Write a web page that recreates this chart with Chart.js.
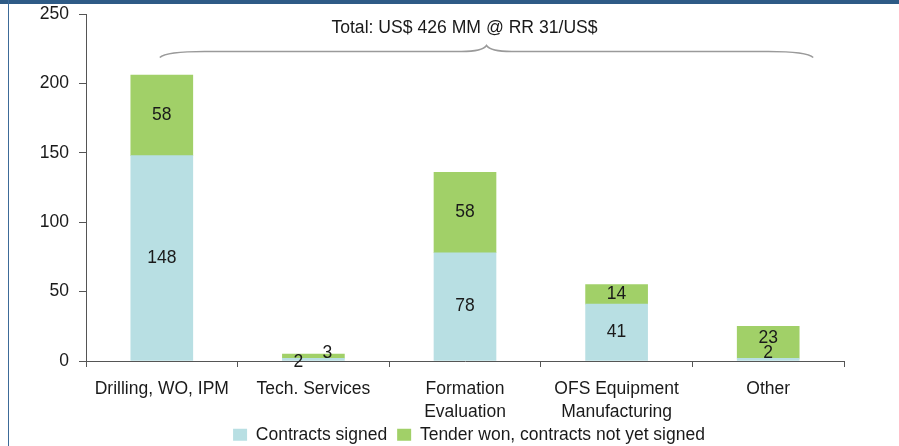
<!DOCTYPE html>
<html>
<head>
<meta charset="utf-8">
<script src="https://cdn.jsdelivr.net/npm/chart.js@4.4.0/dist/chart.umd.min.js"></script>
<style>
  html, body { margin: 0; padding: 0; background: #fff; }
  #wrap { position: relative; width: 899px; height: 446px; overflow: hidden; }
  #c { position: absolute; left: 0; top: 0; }
  #topbar { position: absolute; left: 0; top: 0; width: 899px; height: 4px; background: #2E5B86; }
  #leftline { position: absolute; left: 8px; top: 0; width: 1px; height: 446px; background: #3C6A98; }
</style>
</head>
<body>
<div id="wrap">
  <canvas id="c" width="899" height="446"></canvas>
  <div id="topbar"></div>
  <div id="leftline"></div>
</div>
<script>
const categories = [['Drilling, WO, IPM'], ['Tech. Services'], ['Formation', 'Evaluation'], ['OFS Equipment', 'Manufacturing'], ['Other']];
const contractsSigned = [148, 2, 78, 41, 2];
const tenderWon = [58, 3, 58, 14, 23];
const yTicks = [0, 50, 100, 150, 200, 250];
const seriesNames = ['Contracts signed', 'Tender won, contracts not yet signed'];
const totalText = 'Total: US$ 426 MM @ RR 31/US$';

const FONT = '"Liberation Sans", Arial, sans-serif';
const FS = 17.5;
// label nudges (style only) for small segments: [dataset-index] = [dx, dy]
const labelNudge = {
  '0-1': [-15, 3], '1-1': [14, -3],
  '0-4': [0, -6], '1-4': [0, -4]
};

const labelPlugin = {
  id: 'segLabels',
  afterDatasetsDraw(chart) {
    const ctx = chart.ctx;
    ctx.save();
    ctx.font = FS + 'px ' + FONT;
    ctx.fillStyle = '#1a1a1a';
    ctx.textAlign = 'center';
    ctx.textBaseline = 'middle';
    chart.data.datasets.forEach((ds, di) => {
      const meta = chart.getDatasetMeta(di);
      meta.data.forEach((el, i) => {
        const n = labelNudge[di + '-' + i] || [0, 0];
        const cy = (el.y + el.base) / 2;
        ctx.fillText(String(ds.data[i]), el.x + n[0], cy + n[1]);
      });
    });
    ctx.restore();
  }
};

const bracePlugin = {
  id: 'brace',
  afterDraw(chart) {
    const ctx = chart.ctx;
    const xs = chart.scales.x, ys = chart.scales.y;
    const x0 = xs.getPixelForValue(0) - 2;
    const x1 = xs.getPixelForValue(4) + 45;
    const yl = ys.getPixelForValue(223);
    const xm = (x0 + x1) / 2;
    ctx.save();
    ctx.strokeStyle = '#9a9a9a';
    ctx.lineWidth = 1.5;
    ctx.beginPath();
    ctx.moveTo(x0, yl + 6);
    ctx.quadraticCurveTo(x0 + 6, yl, x0 + 45, yl);
    ctx.lineTo(xm - 25, yl);
    ctx.quadraticCurveTo(xm - 4, yl, xm, yl - 6);
    ctx.quadraticCurveTo(xm + 4, yl, xm + 25, yl);
    ctx.lineTo(x1 - 45, yl);
    ctx.quadraticCurveTo(x1 - 6, yl, x1, yl + 6);
    ctx.stroke();
    ctx.font = '17.6px ' + FONT;
    ctx.fillStyle = '#1a1a1a';
    ctx.textAlign = 'center';
    ctx.textBaseline = 'middle';
    ctx.fillText(totalText, xm - 22, ys.getPixelForValue(240));
    ctx.restore();
  }
};

const legendTweak = {
  id: 'legendTweak',
  beforeLayout(chart) {
    const lg = chart.legend;
    if (lg && !lg._patched) {
      const orig = lg.fit.bind(lg);
      lg.fit = function () { orig(); this.height = 20; };
      lg._patched = true;
    }
  },
  afterLayout(chart) {
    const lg = chart.legend;
    if (!lg) return;
    const dx = 47;
    lg.left += dx; lg.right += dx;
    lg.top -= 10;
  }
};

new Chart(document.getElementById('c'), {
  type: 'bar',
  data: {
    labels: categories,
    datasets: [
      { label: seriesNames[0], data: contractsSigned, backgroundColor: '#B8DFE3' },
      { label: seriesNames[1], data: tenderWon, backgroundColor: '#A1D068' }
    ]
  },
  options: {
    responsive: false,
    devicePixelRatio: 1,
    animation: false,
    layout: { autoPadding: false, padding: { left: 0, right: 55, top: 14, bottom: 0 } },
    datasets: { bar: { barThickness: 62, borderWidth: 0 } },
    plugins: {
      tooltip: { enabled: false },
      legend: {
        position: 'bottom',
        labels: {
          boxWidth: 14, boxHeight: 12, padding: 10,
          color: '#1a1a1a',
          font: { family: FONT, size: FS }
        }
      }
    },
    scales: {
      x: {
        stacked: true,
        grid: { drawOnChartArea: false, drawTicks: true, tickLength: 6, color: '#555', offset: true },
        border: { color: '#555', width: 1 },
        ticks: { color: '#1a1a1a', font: { family: FONT, size: FS, lineHeight: 1.32 }, padding: 11, maxRotation: 0, autoSkip: false },
        afterFit(s) { s.height = 65; }
      },
      y: {
        stacked: true,
        min: yTicks[0], max: yTicks[yTicks.length - 1],
        afterBuildTicks(s) { s.ticks = yTicks.map(v => ({ value: v })); },
        grid: { drawOnChartArea: false, drawTicks: true, tickLength: 7, color: '#555' },
        border: { color: '#555', width: 1 },
        ticks: { color: '#1a1a1a', font: { family: FONT, size: FS }, padding: 10 },
        afterFit(s) { s.width = 86; s.paddingTop = 0; s.paddingBottom = 0; }
      }
    }
  },
  plugins: [labelPlugin, bracePlugin, legendTweak]
});
</script>
</body>
</html>
